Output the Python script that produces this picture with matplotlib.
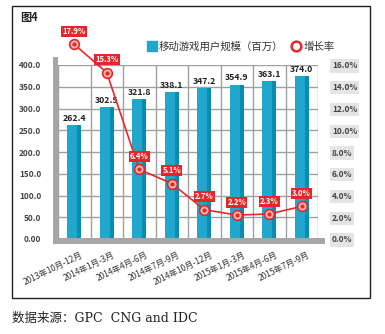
import matplotlib.pyplot as plt
import matplotlib.transforms as mtransforms
from matplotlib.patches import Rectangle
from matplotlib.lines import Line2D
import numpy as np

plt.rcParams['font.family'] = ['Noto Sans CJK SC', 'DejaVu Sans']

categories = ['2013年10月-12月', '2014年1月-3月', '2014年4月-6月', '2014年7月-9月',
              '2014年10月-12月', '2015年1月-3月', '2015年4月-6月', '2015年7月-9月']
users = [262.4, 302.5, 321.8, 338.1, 347.2, 354.9, 363.1, 374.0]
growth = [17.9, 15.3, 6.4, 5.1, 2.7, 2.2, 2.3, 3.0]
left_ticks = [0, 50, 100, 150, 200, 250, 300, 350, 400]
right_ticks = [0, 2, 4, 6, 8, 10, 12, 14, 16]

W, H = 385, 334
fig = plt.figure(figsize=(W / 100, H / 100), dpi=100)

def fx(px):
    return px / W

def fy(py):
    return 1 - py / H

# outer frame
fig.patches.append(Rectangle((fx(12), fy(298)), fx(358), 292 / H, transform=fig.transFigure,
                             fill=False, edgecolor='#222222', linewidth=1.0))

# 3d-ish grey wall and floor
grey = '#A6A6A6'
fig.patches.append(Rectangle((fx(53), fy(244)), fx(5), 187 / H, transform=fig.transFigure,
                             facecolor=grey, edgecolor='none', zorder=0))
fig.patches.append(Rectangle((fx(53), fy(244)), fx(272), 6 / H, transform=fig.transFigure,
                             facecolor=grey, edgecolor='none', zorder=0))

ax = fig.add_axes([fx(58), fy(239), fx(260), 174 / H])
x = np.arange(len(categories))

ax.set_xlim(-0.5, 7.5)
ax.set_ylim(0, 400)
for b in np.arange(-0.5, 8, 1):
    ax.axvline(b, color='#A0A0A0', linewidth=1.0, zorder=1)
for t in left_ticks[1:]:
    ax.axhline(t, color='#A0A0A0', linewidth=1.0, zorder=1)

bw = 0.43
ax.bar(x, users, width=bw, color='#1FA8CC', zorder=2)
ax.bar(x + bw / 2 - 0.065, users, width=0.13, color='#0A8CB0', zorder=2)
for xi, v in zip(x, users):
    ax.text(xi, v + 5, '{:.1f}'.format(v), ha='center', va='bottom', fontsize=6.3,
            fontweight='bold', color='#222222', zorder=4)

for s in ax.spines.values():
    s.set_visible(False)
ax.set_yticks(left_ticks)
ax.set_yticklabels(['0.00'] + ['{:.1f}'.format(t) for t in left_ticks[1:]],
                   fontsize=6, fontweight='bold', color='#444444')
ax.tick_params(axis='y', length=0, pad=12)
ax.set_xticks(x)
ax.set_xticklabels(categories, rotation=26, ha='right', rotation_mode='anchor',
                   fontsize=6, color='#333333')
ax.tick_params(axis='x', length=0, pad=8)
shift = mtransforms.ScaledTranslation(6 / 100, 0, fig.dpi_scale_trans)
for lab in ax.get_xticklabels():
    lab.set_transform(lab.get_transform() + shift)

ax2 = ax.twinx()
ax2.set_ylim(0, 16)
for s in ax2.spines.values():
    s.set_visible(False)
ax2.set_yticks(right_ticks)
ax2.set_yticklabels(['{:.1f}%'.format(t) for t in right_ticks], fontsize=6,
                    fontweight='bold', color='#444444',
                    bbox=dict(boxstyle='square,pad=0.25', facecolor='#E4E4E4', edgecolor='none'))
ax2.tick_params(axis='y', length=0, pad=10)

red = '#E8262A'
ax2.plot(x, growth, color=red, linewidth=1.2, zorder=5, clip_on=False)
ax2.plot(x, growth, linestyle='none', marker='o', markersize=7, markerfacecolor='#F4B6B0',
         markeredgecolor=red, markeredgewidth=1.2, zorder=6, clip_on=False)
ax2.plot(x, growth, linestyle='none', marker='o', markersize=2, color=red, zorder=7,
         clip_on=False)
for xi, g in zip(x, growth):
    ax2.annotate('{:.1f}%'.format(g), (xi, g), xytext=(0, 6), textcoords='offset points',
                 ha='center', va='bottom', fontsize=5.5, fontweight='bold', color='white',
                 bbox=dict(boxstyle='square,pad=0.15', facecolor=red, edgecolor='none'),
                 zorder=8, annotation_clip=False)

# legend
handles = [
    Line2D([], [], linestyle='none', marker='s', markersize=7, color='#1FA8CC'),
    Line2D([], [], linestyle='none', marker='o', markersize=7, markerfacecolor='white',
           markeredgecolor=red, markeredgewidth=1.8),
]
fig.legend(handles, ['移动游戏用户规模（百万）', '增长率'], loc='center left',
           bbox_to_anchor=(fx(138), fy(47)), ncol=2, frameon=False, fontsize=7.5,
           handlelength=0.8, handletextpad=0.3, columnspacing=0.8, labelcolor='#333333')

fig.text(fx(20), fy(17), '图4', fontsize=8, fontweight='bold', va='center', ha='left',
         color='#222222')
fig.text(fx(12), fy(318), '数据来源：GPC  CNG and IDC', fontsize=9, va='center', ha='left',
         color='#222222', family=['DejaVu Serif', 'Noto Sans CJK SC'])

fig.savefig('out.png', dpi=100)
